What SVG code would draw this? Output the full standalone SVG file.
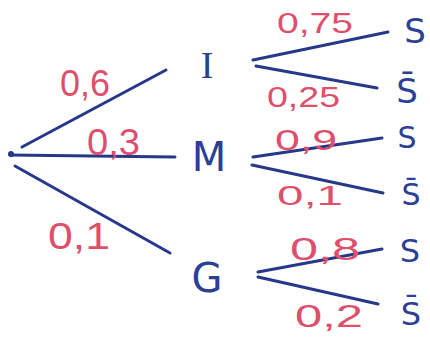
<svg xmlns="http://www.w3.org/2000/svg" width="430" height="337" viewBox="0 0 430 337">
<style>
.e{stroke:#27388a;stroke-width:3;stroke-linecap:round;fill:none}
.p{fill:#de4f6b;font-family:"Liberation Sans",Arial,sans-serif}
.n{fill:#2a3f95;font-family:"DejaVu Sans","Liberation Sans",sans-serif}
</style>
<rect width="430" height="337" fill="#fff"/>
<g id="connectors">
<path class="e" d="M22,147 L166,70"/>
<path class="e" d="M10,155 L175,157"/>
<path class="e" d="M15,166 L170,253"/>
<path class="e" d="M253,60 L388,32"/>
<path class="e" d="M256,66 L377,88"/>
<path class="e" d="M253,157 L382,138"/>
<path class="e" d="M252,165 L383,193"/>
<path class="e" d="M258,272 L382,249"/>
<path class="e" d="M258,277 L378,304"/>
<circle cx="11" cy="154" r="3" fill="#27388a"/>
</g>
<g id="edge-labels">
<text class="p" x="60" y="96" font-size="36" textLength="50" lengthAdjust="spacingAndGlyphs">0,6</text>
<text class="p" x="87" y="155" font-size="36" textLength="53" lengthAdjust="spacingAndGlyphs">0,3</text>
<text class="p" x="48" y="249" font-size="36" textLength="62" lengthAdjust="spacingAndGlyphs">0,1</text>
<text class="p" x="277" y="33" font-size="29" textLength="76" lengthAdjust="spacingAndGlyphs">0,75</text>
<text class="p" x="267" y="107" font-size="29" textLength="73" lengthAdjust="spacingAndGlyphs">0,25</text>
<text class="p" x="275" y="150" font-size="30" textLength="62" lengthAdjust="spacingAndGlyphs">0,9</text>
<text class="p" x="277" y="205" font-size="28" textLength="66" lengthAdjust="spacingAndGlyphs">0,1</text>
<text class="p" x="290" y="260" font-size="32" textLength="70" lengthAdjust="spacingAndGlyphs">0,8</text>
<text class="p" x="295" y="327" font-size="32" textLength="68" lengthAdjust="spacingAndGlyphs">0,2</text>
</g>
<g id="node-I"><text class="n" x="207" y="78" font-size="38" text-anchor="middle" style="font-family:'Liberation Serif',serif">I</text></g>
<g id="node-M"><text class="n" x="209" y="171" font-size="40" text-anchor="middle">M</text></g>
<g id="node-G"><text class="n" x="207" y="292" font-size="40" text-anchor="middle">G</text></g>
<g id="leaf-IS"><text class="n" x="415" y="43" font-size="34" text-anchor="middle">S</text></g>
<g id="leaf-ISbar"><text class="n" x="407" y="103" font-size="34" text-anchor="middle">S̄</text></g>
<g id="leaf-MS"><text class="n" x="407" y="148" font-size="30" text-anchor="middle">S</text></g>
<g id="leaf-MSbar"><text class="n" x="411" y="205" font-size="30" text-anchor="middle">S̄</text></g>
<g id="leaf-GS"><text class="n" x="410" y="262" font-size="32" text-anchor="middle">S</text></g>
<g id="leaf-GSbar"><text class="n" x="411" y="325" font-size="32" text-anchor="middle">S̄</text></g>
</svg>
